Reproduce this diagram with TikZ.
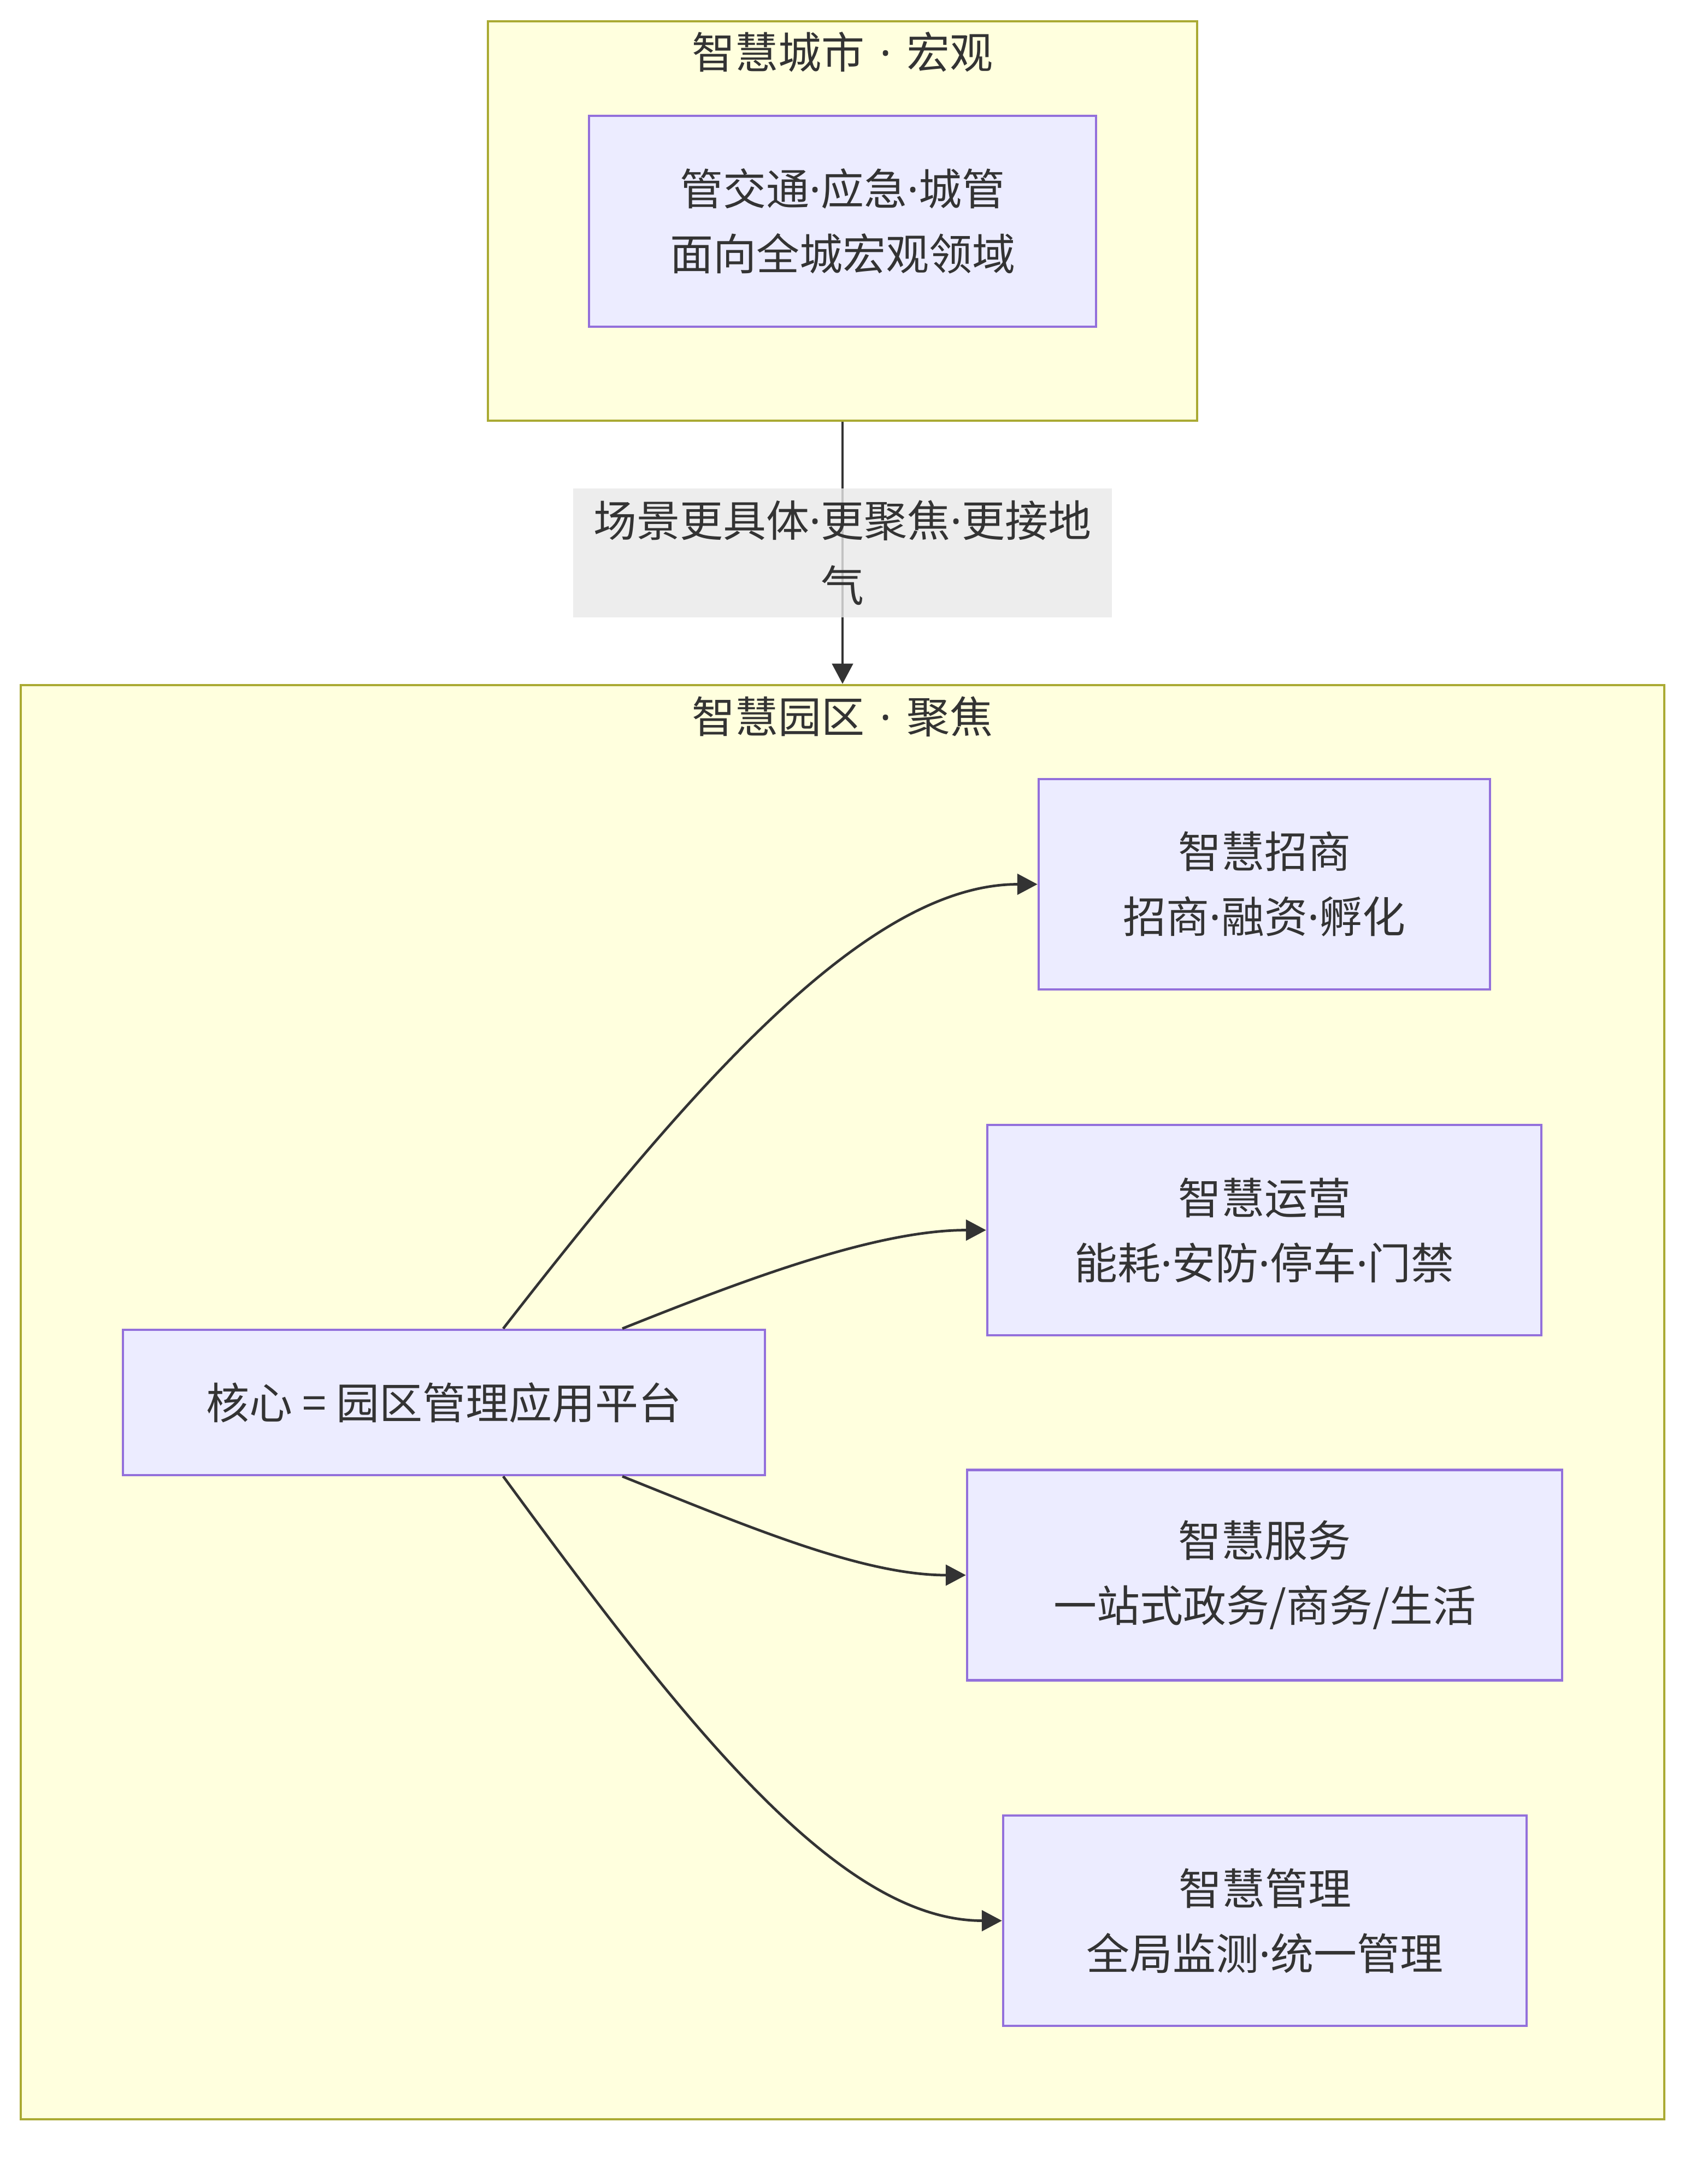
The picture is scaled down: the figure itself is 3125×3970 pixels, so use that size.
\documentclass[tikz,border=0pt]{standalone}
\usepackage{fontspec}
\setmainfont{Noto Sans CJK SC}
\newfontfamily\dotfont{Noto Sans}
\newcommand\mdot{{\dotfont ·}}
\usetikzlibrary{arrows.meta,calc}

\definecolor{clusterfill}{HTML}{FFFFDE}
\definecolor{clusterline}{HTML}{AAAA33}
\definecolor{boxfill}{HTML}{ECECFF}
\definecolor{boxline}{HTML}{9370DB}
\definecolor{ink}{HTML}{333333}
\definecolor{labelbg}{HTML}{E8E8E8}

\tikzset{
  cluster/.style={draw=clusterline, fill=clusterfill, line width=0.9pt, inner sep=0pt},
  box/.style={draw=boxline, fill=boxfill, line width=0.9pt, align=center, inner sep=0pt},
  link/.style={draw=ink, line width=0.95pt, -{Triangle[length=7.4pt,width=7.6pt]}},
}

\begin{document}
\begin{tikzpicture}[font=\fontsize{15.8pt}{23.8pt}\selectfont, text=ink, x=0.2pt, y=-0.2pt]
\useasboundingbox (0,0) rectangle (3125,3970);

% the two groups
\node[cluster, minimum width=259.6pt, minimum height=146.2pt] (city) at (1542,404.5) {};
\node[cluster, minimum width=601.6pt, minimum height=525pt] (park) at (1542,2566.5) {};
\node (citytitle) at (1542,95) {智慧城市\hspace{0.35em}\mdot\hspace{0.35em}宏观};
\node (parktitle) at (1542,1312) {智慧园区\hspace{0.35em}\mdot\hspace{0.35em}聚焦};

% city to park
\draw[link] (city.south) -- (park.north);
\node[fill=labelbg, fill opacity=0.8, text opacity=1, align=center, inner sep=0pt,
      minimum width=197.2pt, minimum height=47.2pt] (focus) at (1542,1012)
      {场景更具体\mdot 更聚焦\mdot 更接地\\气};

\node[box, minimum width=185.6pt, minimum height=77.2pt] (macro) at (1542,405)
      {管交通\mdot 应急\mdot 城管\\面向全城宏观领域};

% park
\node[box, minimum width=235pt, minimum height=53.2pt] (core) at (812.5,2567)
      {核心 = 园区管理应用平台};
\node[box, minimum width=165.2pt, minimum height=77pt] (zs) at (2314,1618.5)
      {智慧招商\\招商\mdot 融资\mdot 孵化};
\node[box, minimum width=202.8pt, minimum height=77pt] (yy) at (2314,2251.5)
      {智慧运营\\能耗\mdot 安防\mdot 停车\mdot 门禁};
\node[box, minimum width=217.8pt, minimum height=77pt] (fw) at (2314.5,2883)
      {智慧服务\\一站式政务/商务/生活};
\node[box, minimum width=191.6pt, minimum height=77pt] (gl) at (2315,3515.5)
      {智慧管理\\全局监测\mdot 统一管理};

\draw[link] ($(core.north)+(108.5,0)$) .. controls +(350,-450) and +(-310,0) .. (zs.west);
\draw[link] ($(core.north)+(326.5,0)$) .. controls +(230,-92) and +(-200,0) .. (yy.west);
\draw[link] ($(core.south)+(326.5,0)$) .. controls +(230,92) and +(-190,0) .. (fw.west);
\draw[link] ($(core.south)+(108.5,0)$) .. controls +(330,450) and +(-300,0) .. (gl.west);
\end{tikzpicture}
\end{document}
